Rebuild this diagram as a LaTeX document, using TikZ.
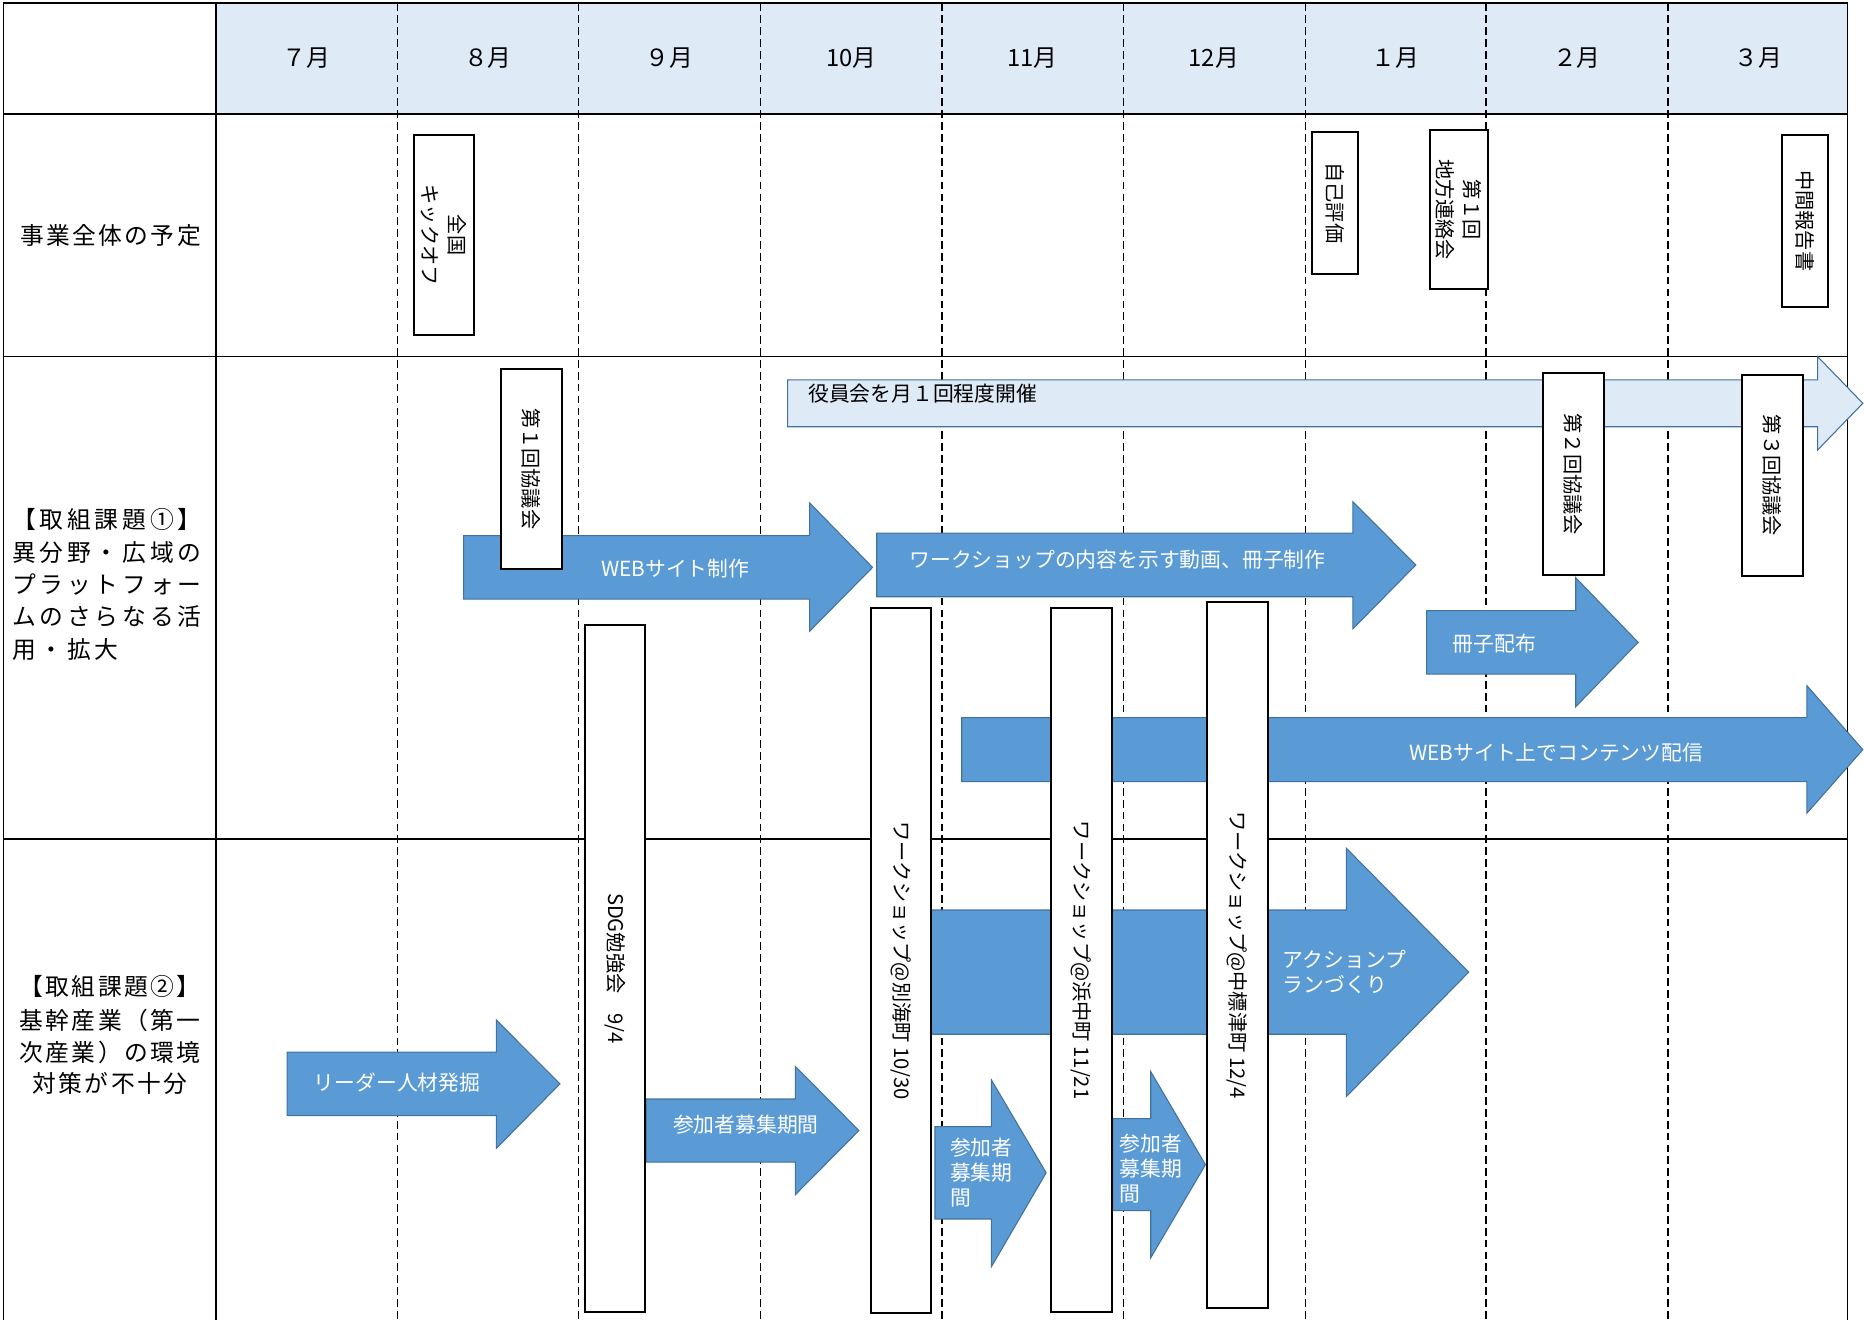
\documentclass[tikz,border=0pt]{standalone}
\usepackage{fontspec}
\setmainfont{Noto Sans CJK JP}
\newfontfamily\lsA[LetterSpace=10]{Noto Sans CJK JP}
\newfontfamily\lsB[LetterSpace=16]{Noto Sans CJK JP}
\definecolor{hdrblue}{HTML}{DEEAF6}
\definecolor{ablue}{HTML}{5B9BD5}
\definecolor{aedge}{HTML}{41719C}
\newcommand\garrow[8]{%
  \draw[#1] (#2,#3) -- (#5,#3) -- (#5,#6) -- (#8,{(#3+#4)/2}) -- (#5,#7) -- (#5,#4) -- (#2,#4) -- cycle;}
\tikzset{
  tline/.style={line width=1.4pt, black},
  dashline/.style={line width=1.1pt, black, dash pattern=on 6.5pt off 3.5pt},
  barrow/.style={fill=ablue, draw=aedge, line width=0.9pt, line join=miter},
  larrow/.style={fill=hdrblue, draw=aedge, line width=0.9pt, line join=miter},
  atext/.style={text=white, font=\fontsize{17.5}{21}\selectfont, inner sep=0pt},
  vbox/.style={draw=black, line width=1.7pt, fill=white, rotate=-90, inner sep=0pt, align=center, font=\fontsize{17}{23}\selectfont},
  month/.style={font=\fontsize{20}{24}\selectfont, inner sep=0pt},
  rowlab/.style={font=\lsA\fontsize{20}{27}\selectfont, inner sep=0pt},
  rowlabw/.style={font=\lsB\fontsize{20}{27}\selectfont, inner sep=0pt, anchor=west},
}
\begin{document}
\begin{tikzpicture}[x=1pt,y=-1pt]
\useasboundingbox (0,0) rectangle (1568,1110);
% header fill
\fill[hdrblue] (181.5,2.8) rectangle (1554,95.9);
% month dashed lines
\foreach \x in {334.5,486.5,640,792.5,945,1098,1250,1403}
  \draw[dashline] (\x,2.8) -- (\x,1110);
% table lines
\draw[tline] (3,1110) -- (3,2.8) -- (1554,2.8) -- (1554,1110);
\draw[tline] (181.5,2.8) -- (181.5,1110);
\draw[tline] (3,95.9) -- (1554,95.9);
\draw[tline] (3,300) -- (1554,300);
\draw[tline] (3,706) -- (1554,706);
% months
\node[month] (m1) at (258,49) {７月};
\node[month] (m2) at (410.5,49) {８月};
\node[month] (m3) at (563,49) {９月};
\node[month] (m4) at (716,49) {10月};
\node[month] (m5) at (868.5,49) {11月};
\node[month] (m6) at (1021,49) {12月};
\node[month] (m7) at (1174,49) {１月};
\node[month] (m8) at (1326.5,49) {２月};
\node[month] (m9) at (1479,49) {３月};
% row labels
\node[rowlab] (r1) at (93,198) {事業全体の予定};
\node[rowlabw] (r2a) at (10,437) {【取組課題①】};
\node[rowlabw] (r2b) at (10,465) {異分野・広域の};
\node[rowlabw] (r2c) at (10,492) {プラットフォー};
\node[rowlabw] (r2d) at (10,519) {ムのさらなる活};
\node[rowlabw] (r2e) at (10,546) {用・拡大};
\node[rowlab] (r3a) at (92.5,830) {【取組課題②】};
\node[rowlab] (r3b) at (92.5,858) {基幹産業（第一};
\node[rowlab] (r3c) at (92.5,885) {次産業）の環境};
\node[rowlab] (r3d) at (92.5,911) {対策が不十分};
% arrows
\garrow{larrow}{662.6}{319.5}{359}{1529}{300}{378.5}{1567}
\node[atext, text=black, anchor=west] (ta) at (679.7,331) {役員会を月１回程度開催};
\garrow{barrow}{390}{450.6}{504}{681}{423}{531}{734}
\node[atext] (tb) at (568,478) {WEBサイト制作};
\garrow{barrow}{737.5}{448.5}{502}{1138}{422}{529}{1191}
\node[atext] (tc) at (940,471) {ワークショップの内容を示す動画、冊子制作};
\garrow{barrow}{1200}{513.7}{567}{1325.5}{486}{594.5}{1378}
\node[atext, anchor=west] (td) at (1222,541) {冊子配布};
\garrow{barrow}{809}{603.7}{657.5}{1520}{576.8}{684}{1567}
\node[atext] (te) at (1309,633) {WEBサイト上でコンテンツ配信};
\garrow{barrow}{760}{765.5}{870}{1132.5}{713.5}{922.5}{1235.5}
\node[atext, anchor=west, align=left] (tf) at (1079,818) {アクションプ\\ランづくり};
\garrow{barrow}{241.5}{885}{938.5}{417.5}{858}{966}{471}
\node[atext] (tg) at (334,911) {リーダー人材発掘};
\garrow{barrow}{543.5}{924.5}{977.5}{669}{897}{1005}{722.5}
\node[atext] (th) at (627.5,946) {参加者募集期間};
\garrow{barrow}{786.5}{947.7}{1025.4}{834}{908.5}{1065.5}{880}
\node[atext, anchor=west, align=left] (ti) at (799,986) {参加者\\募集期\\間};
\garrow{barrow}{936}{941}{1018.4}{968}{901.5}{1058}{1014}
\node[atext, anchor=west, align=left] (tj) at (941.5,982.8) {参加者\\募集期\\間};
% vertical boxes
\node[vbox, minimum width=168.4pt, minimum height=51pt] (kick) at (373.5,197.8) {全国\\キックオフ};
\node[vbox, minimum width=119.7pt, minimum height=38.4pt] (jiko) at (1122.8,170.6) {自己評価};
\node[vbox, minimum width=133.9pt, minimum height=49.2pt] (chiho) at (1227.1,176.3) {第１回\\地方連絡会};
\node[vbox, minimum width=144.4pt, minimum height=39pt] (chukan) at (1518.5,185.8) {中間報告書};
\node[vbox, minimum width=168.6pt, minimum height=51.2pt] (kyo1) at (447.1,394.3) {第１回協議会};
\node[vbox, minimum width=170pt, minimum height=51pt] (kyo2) at (1323.5,399) {第２回協議会};
\node[vbox, minimum width=169pt, minimum height=52pt] (kyo3) at (1491,400) {第３回協議会};
\node[vbox, minimum width=577.9pt, minimum height=50pt] (sdg) at (517.5,814.75) {SDG勉強会　9/4};
\node[vbox, minimum width=593pt, minimum height=50.5pt] (ws1) at (757.7,808.2) {ワークショップ@別海町 10/30};
\node[vbox, minimum width=592pt, minimum height=51.5pt] (ws2) at (909.75,807.65) {ワークショップ@浜中町 11/21};
\node[vbox, minimum width=594.5pt, minimum height=51.5pt] (ws3) at (1040.75,803.25) {ワークショップ@中標津町 12/4};
\end{tikzpicture}
\end{document}
